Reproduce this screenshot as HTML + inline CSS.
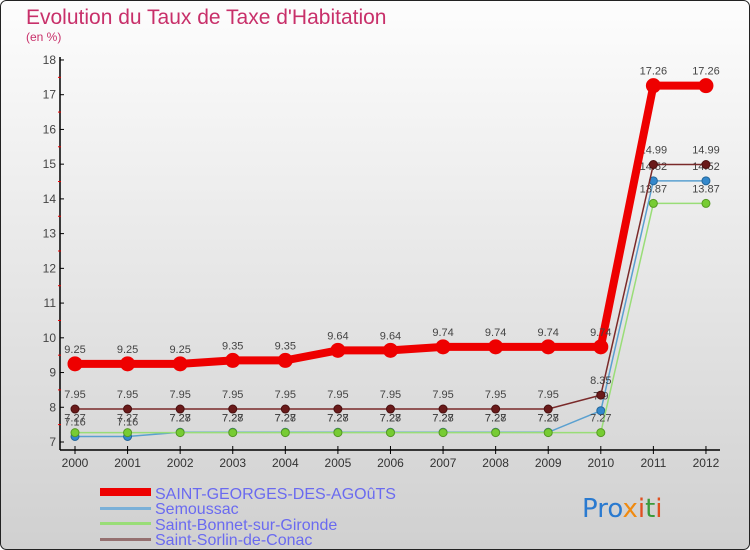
<!DOCTYPE html>
<html><head><meta charset="utf-8"><style>
body{margin:0}
#c{width:750px;height:550px;position:relative;overflow:hidden;font-family:"Liberation Sans",sans-serif}
</style></head><body>
<div id="c">
<svg id="s" width="750" height="550" xmlns="http://www.w3.org/2000/svg">
<defs><linearGradient id="bg" x1="0" y1="0" x2="0" y2="1"><stop offset="0" stop-color="#fdfdfd"/><stop offset="1" stop-color="#d0d0d0"/></linearGradient></defs>
<rect x="0.5" y="0.5" width="749" height="549" rx="6" fill="url(#bg)" stroke="#222"/>
<text x="26" y="24" font-size="21" fill="#c8306a">Evolution du Taux de Taxe d'Habitation</text>
<text x="26" y="41" font-size="12" fill="#c8306a">(en %)</text>
<g id="plot"></g>
<g>
<rect x="100" y="488" width="51" height="8" fill="#e00"/>
<text x="155" y="499" font-size="16" fill="#6a6af0">SAINT-GEORGES-DES-AGOûTS</text>
<rect x="100" y="507" width="51" height="3" fill="#7ab0d8"/>
<text x="155" y="514" font-size="16" fill="#6a6af0">Semoussac</text>
<rect x="100" y="522" width="51" height="3" fill="#99dd77"/>
<text x="155" y="530" font-size="16" fill="#6a6af0">Saint-Bonnet-sur-Gironde</text>
<rect x="100" y="538" width="51" height="3" fill="#957070"/>
<text x="155" y="545" font-size="16" fill="#6a6af0">Saint-Sorlin-de-Conac</text>
</g>
<g font-size="26" font-family="DejaVu Sans, sans-serif">
<text x="582" y="517"><tspan fill="#2a7ad0">Pro</tspan><tspan fill="#f08a10">x</tspan><tspan fill="#e05020">i</tspan><tspan fill="#3a9a3a">t</tspan><tspan fill="#e05020">i</tspan></text>
</g>
</svg>
</div>
<script>
const years=[2000,2001,2002,2003,2004,2005,2006,2007,2008,2009,2010,2011,2012];
const sgValues=[9.25,9.25,9.25,9.35,9.35,9.64,9.64,9.74,9.74,9.74,9.74,17.26,17.26];
const semValues=[7.16,7.16,7.28,7.28,7.28,7.28,7.28,7.28,7.28,7.28,7.9,14.52,14.52];
const sbValues=[7.27,7.27,7.27,7.27,7.27,7.27,7.27,7.27,7.27,7.27,7.27,13.87,13.87];
const ssValues=[7.95,7.95,7.95,7.95,7.95,7.95,7.95,7.95,7.95,7.95,8.35,14.99,14.99];
const yTicks=[7,8,9,10,11,12,13,14,15,16,17,18];
const NS="http://www.w3.org/2000/svg";
const g=document.getElementById('plot');
const X=i=>75+i*52.58;
const Y=v=>442-(v-7)*34.73;
function mk(t,a,p){const e=document.createElementNS(NS,t);for(const k in a)e.setAttribute(k,a[k]);(p||g).appendChild(e);return e;}
const ya=mk('line',{x1:60,y1:57,x2:60,y2:450,stroke:'#000','stroke-width':1.5});


const xa=mk('line',{x1:60,y1:450,x2:720,y2:450,stroke:'#000','stroke-width':1.5});


yTicks.forEach(v=>{
 mk('line',{x1:60,y1:Y(v),x2:64,y2:Y(v),stroke:'#000'});
 if(v<18)mk('line',{x1:58,y1:Y(v+0.5),x2:61,y2:Y(v+0.5),stroke:'#e00'});
 const t=mk('text',{x:56,y:Y(v)+4,'font-size':12,'text-anchor':'end',fill:'#444'});t.textContent=v;
 
 
});
years.forEach((yr,i)=>{
 mk('line',{x1:X(i),y1:446,x2:X(i),y2:454,stroke:'#000'});
 const t=mk('text',{x:X(i),y:467,'font-size':12,'text-anchor':'middle',fill:'#333'});t.textContent=yr;
 
 
});
function series(vals,color,lw,r,name,fill,stroke){
 const s=mk('g',{});
 
 
 mk('polyline',{points:vals.map((v,i)=>X(i)+','+Y(v)).join(' '),fill:'none',stroke:color,'stroke-width':lw},s);
 vals.forEach((v,i)=>{
  const c=mk('circle',{cx:X(i),cy:Y(v),r:r,fill:fill,stroke:stroke,'stroke-width':1},s);
  
  
  const t=mk('text',{x:X(i),y:Y(v)-11,'font-size':11,'text-anchor':'middle',fill:'#444'},s);t.textContent=v;
 });
}
series(semValues,'#5aa0d0',1.5,4,'series-semoussac','#3388cc','#226699');
series(sbValues,'#99dd77',1.5,4,'series-saint-bonnet','#77cc33','#559922');
series(ssValues,'#7a2a2a',1.5,4,'series-saint-sorlin','#6a1a1a','#4a1010');
series(sgValues,'#ee0000',8,7,'series-saint-georges','#ee0000','#ee0000');
</script>
</body></html>
